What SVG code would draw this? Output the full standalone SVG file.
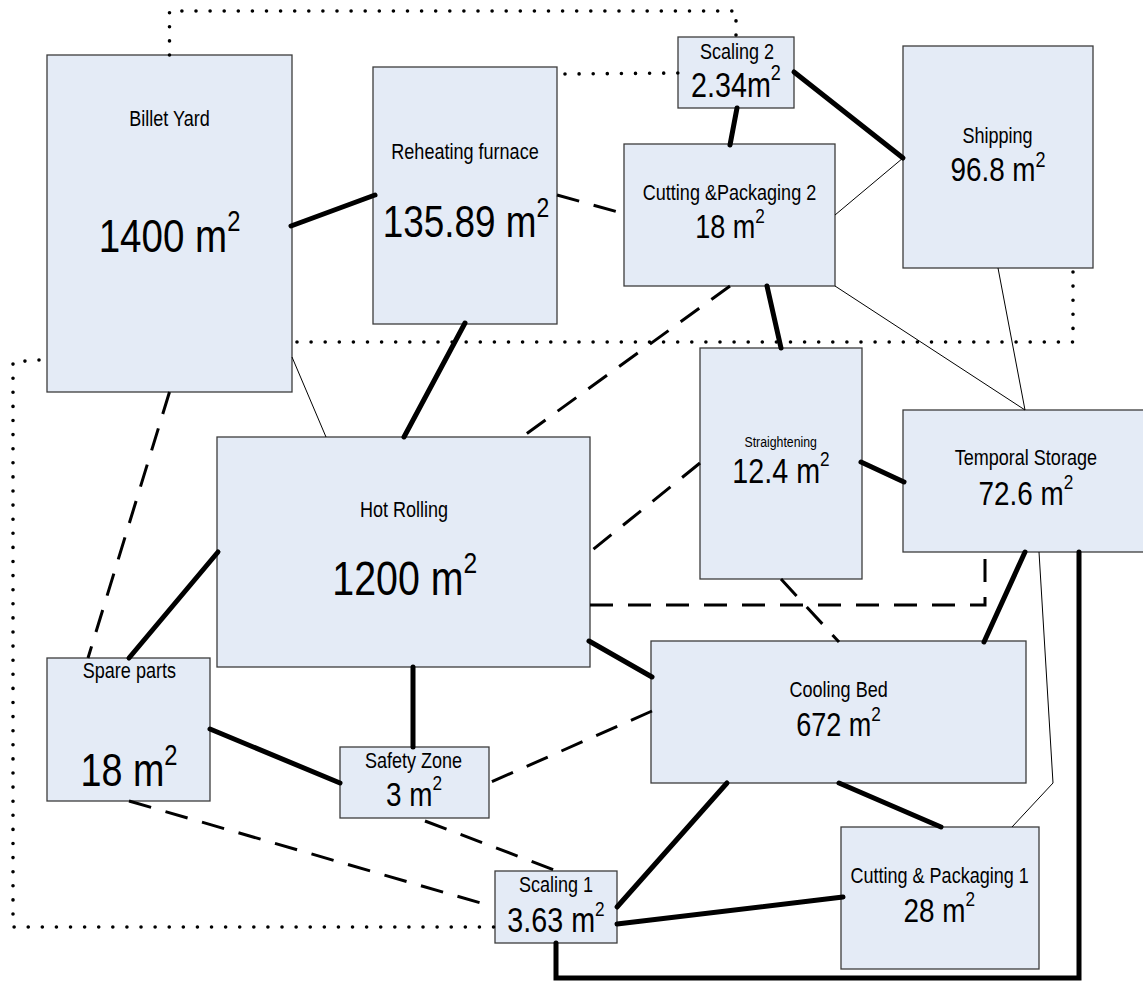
<svg xmlns="http://www.w3.org/2000/svg" width="1143" height="983" viewBox="0 0 1143 983">
<style>
.box{fill:#E4EBF6;stroke:#3c3c3c;stroke-width:1.3}
text{font-family:"Liberation Sans",Arial,sans-serif;fill:#000;text-anchor:middle}
.thick{fill:none;stroke:#000;stroke-width:5;stroke-linecap:round;stroke-linejoin:miter}
.thin{fill:none;stroke:#000;stroke-width:1}
.dash{fill:none;stroke:#000;stroke-width:3;stroke-dasharray:23 15}
.dot{fill:none;stroke:#000;stroke-width:3.6;stroke-linecap:round;stroke-dasharray:0 14.1}
</style>
<rect width="1143" height="983" fill="#fff"/>

<g id="billet-yard">
<rect class="box" x="47" y="55" width="245" height="337"/>
<text transform="translate(169.5 126) scale(0.82 1)" font-size="22">Billet Yard</text>
<text transform="translate(169.5 252) scale(0.82 1)" font-size="47">1400 m<tspan font-size="29" dy="-21">2</tspan></text>
</g>

<g id="reheating-furnace">
<rect class="box" x="373" y="67" width="184" height="257"/>
<text transform="translate(465 159) scale(0.82 1)" font-size="22">Reheating furnace</text>
<text transform="translate(466 237) scale(0.82 1)" font-size="45">135.89 m<tspan font-size="28" dy="-20">2</tspan></text>
</g>

<g id="scaling-2">
<rect class="box" x="678" y="37" width="116" height="71"/>
<text transform="translate(737 59) scale(0.82 1)" font-size="22">Scaling 2</text>
<text transform="translate(736 97) scale(0.82 1)" font-size="35">2.34m<tspan font-size="22" dy="-17">2</tspan></text>
</g>

<g id="shipping">
<rect class="box" x="903" y="46" width="190" height="222"/>
<text transform="translate(997.5 143) scale(0.82 1)" font-size="22">Shipping</text>
<text transform="translate(998 181) scale(0.82 1)" font-size="34">96.8 m<tspan font-size="22" dy="-14">2</tspan></text>
</g>

<g id="cutting-packaging-2">
<rect class="box" x="624" y="144" width="211" height="142"/>
<text transform="translate(729.5 200) scale(0.82 1)" font-size="22">Cutting &amp;Packaging 2</text>
<text transform="translate(730 238) scale(0.82 1)" font-size="33">18 m<tspan font-size="21" dy="-15">2</tspan></text>
</g>

<g id="straightening">
<rect class="box" x="700" y="348" width="162" height="231"/>
<text transform="translate(780.7 446.5) scale(0.82 1)" font-size="15">Straightening</text>
<text transform="translate(781 483) scale(0.82 1)" font-size="35">12.4 m<tspan font-size="21" dy="-17">2</tspan></text>
</g>

<g id="temporal-storage">
<rect class="box" x="903" y="410" width="245" height="142"/>
<text transform="translate(1025.8 465) scale(0.82 1)" font-size="22">Temporal Storage</text>
<text transform="translate(1026 505) scale(0.82 1)" font-size="34">72.6 m<tspan font-size="21" dy="-16">2</tspan></text>
</g>

<g id="hot-rolling">
<rect class="box" x="217" y="437" width="373" height="230"/>
<text transform="translate(404 516.5) scale(0.82 1)" font-size="22">Hot Rolling</text>
<text transform="translate(404.7 595) scale(0.82 1)" font-size="48">1200 m<tspan font-size="30" dy="-22">2</tspan></text>
</g>

<g id="spare-parts">
<rect class="box" x="47" y="658" width="163" height="143"/>
<text transform="translate(129.4 678) scale(0.82 1)" font-size="22">Spare parts</text>
<text transform="translate(129 786) scale(0.82 1)" font-size="46">18 m<tspan font-size="29" dy="-21">2</tspan></text>
</g>

<g id="safety-zone">
<rect class="box" x="340" y="747" width="149" height="71"/>
<text transform="translate(413.5 767.5) scale(0.82 1)" font-size="22">Safety Zone</text>
<text transform="translate(414 806) scale(0.82 1)" font-size="34">3 m<tspan font-size="21" dy="-16">2</tspan></text>
</g>

<g id="cooling-bed">
<rect class="box" x="651" y="641" width="375" height="142"/>
<text transform="translate(838.6 696.5) scale(0.82 1)" font-size="22">Cooling Bed</text>
<text transform="translate(838.5 736) scale(0.82 1)" font-size="33">672 m<tspan font-size="21" dy="-15">2</tspan></text>
</g>

<g id="scaling-1">
<rect class="box" x="495" y="871" width="122" height="72"/>
<text transform="translate(556 891.5) scale(0.82 1)" font-size="22">Scaling 1</text>
<text transform="translate(556 931.5) scale(0.82 1)" font-size="35">3.63 m<tspan font-size="21" dy="-16">2</tspan></text>
</g>

<g id="cutting-packaging-1">
<rect class="box" x="841" y="827" width="198" height="142"/>
<text transform="translate(939.6 883) scale(0.82 1)" font-size="22">Cutting &amp; Packaging 1</text>
<text transform="translate(939.3 921.5) scale(0.82 1)" font-size="34">28 m<tspan font-size="21" dy="-16">2</tspan></text>
</g>

<g id="connectors">
<path class="thick" d="M291,226 L375,195"/>
<path class="thick" d="M465,323 L404,437"/>
<path class="thick" d="M737,108 L730,145"/>
<path class="thick" d="M794,72 L903,158"/>
<path class="thick" d="M767,286 L781,348"/>
<path class="thick" d="M861,462 L904,482"/>
<path class="thick" d="M218,552 L129,658"/>
<path class="thick" d="M413,667 L413,747"/>
<path class="thick" d="M210,729 L340,783"/>
<path class="thick" d="M589,641 L652,677"/>
<path class="thick" d="M1025,552 L984,642"/>
<path class="thick" d="M727,783 L617,907"/>
<path class="thick" d="M839,783 L941,827"/>
<path class="thick" d="M617,924 L843,897"/>
<path class="thick" d="M556,943 L556,978 L1079,978 L1079,552"/>

<path class="thin" d="M292,357 L326,437"/>
<path class="thin" d="M835,215 L903,158"/>
<path class="thin" d="M835,286 L1025,410"/>
<path class="thin" d="M998,268 L1025,410"/>
<path class="thin" d="M1039,552 L1053,783 L1012,827"/>

<path class="dash" d="M557,195 L618,212"/>
<path class="dash" d="M730,286 L522,437"/>
<path class="dash" d="M169.5,392 L88,658"/>
<path class="dash" d="M700,463 L590,552"/>
<path class="dash" d="M590,605 L985,605 L985,552"/>
<path class="dash" d="M781,579 L839,642"/>
<path class="dash" d="M652,711 L489,783"/>
<path class="dash" d="M425,821 L557,871"/>
<path class="dash" d="M129,801 L491,906"/>

<path class="dot" d="M169.5,55 L169.5,11 L736,11 L736,37"/>
<path class="dot" d="M565,74 L678,73"/>
<path class="dot" d="M1073,272 L1073,342 L292,342"/>
<path class="dot" d="M39,360 L13,362 L13,927 L495,927"/>
</g>
</svg>
